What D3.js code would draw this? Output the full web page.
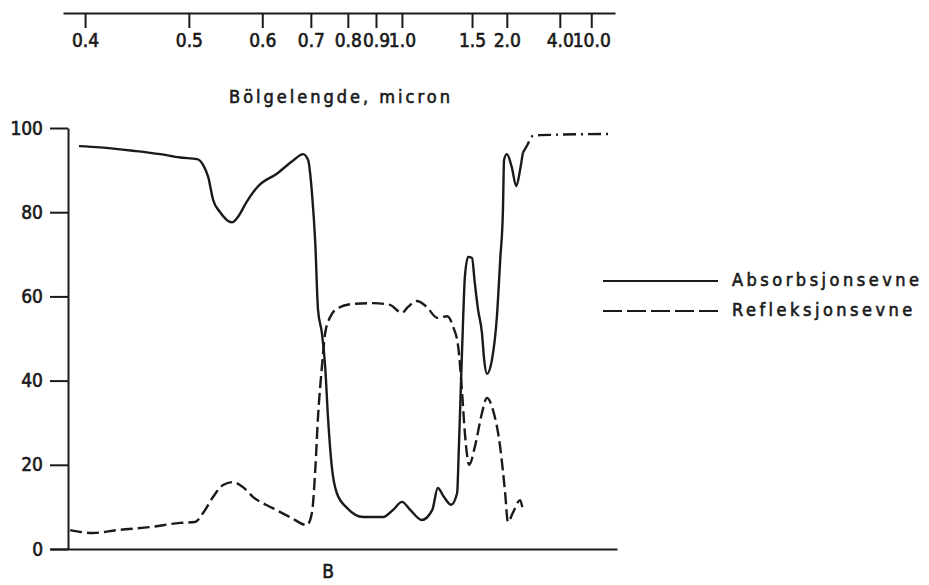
<!DOCTYPE html>
<html>
<head>
<meta charset="utf-8">
<script src="https://cdn.jsdelivr.net/npm/d3@7"></script>
<style>
  html, body { margin: 0; padding: 0; background: #fff; }
  svg { display: block; }
  text { font-family: "DejaVu Sans Condensed", "DejaVu Sans", sans-serif; fill: #1a1a1a; stroke: #1a1a1a; stroke-width: 0.6px; }
</style>
</head>
<body>
<svg id="chart" width="929" height="585"></svg>
<script>
// Horizontal coordinate: cumulative solar energy (%), labelled with wavelength (micron)
const wavelengthLabels = ["0.4", "0.5", "0.6", "0.7", "0.8", "0.9", "1.0", "1.5", "2.0", "4.0", "10.0"];
const wavelengthTickPct = [4.0, 22.8, 36.1, 44.9, 51.6, 56.7, 61.4, 74.1, 80.4, 90.0, 95.7];
const yTicks = [0, 20, 40, 60, 80, 100];

// Absorbsjonsevne (solid), [solar energy %, value %]
const absorbsjon = [
  [2.9, 95.7], [6.7, 95.4], [12.7, 94.6], [17.6, 93.8], [21.2, 93.0], [24.3, 92.6],
  [25.4, 91.2], [26.3, 88.4], [27.2, 82.9], [28.4, 80.1], [30.6, 77.6], [31.7, 78.9],
  [33.3, 82.5], [35.3, 86.1], [38.8, 89.2], [41.7, 92.3], [43.5, 93.8], [44.4, 92.4],
  [45.1, 84.6], [45.7, 72.7], [46.2, 56.8], [46.9, 51.3], [47.5, 43.2], [48.0, 31.4],
  [48.7, 19.5], [49.6, 13.3], [51.5, 9.7], [54.4, 7.6], [58.0, 7.6], [59.8, 9.3],
  [61.4, 11.2], [62.9, 9.3], [65.0, 6.9], [66.9, 9.3], [67.9, 14.5], [69.0, 12.4],
  [70.3, 10.5], [71.4, 13.3], [71.7, 23.5], [72.1, 39.4], [72.5, 55.1], [72.8, 64.6],
  [73.4, 69.4], [74.1, 69.1], [74.6, 63.2], [75.2, 56.8], [75.9, 51.3], [76.3, 44.9],
  [76.8, 41.6], [77.7, 44.9], [78.6, 55.1], [79.2, 68.6], [79.7, 80.5], [79.9, 92.4],
  [80.4, 93.8], [81.3, 90.7], [82.1, 86.2], [82.8, 90.0], [83.3, 94.1]
];
// Absorbsjonsevne, extrapolated part (dash-dot)
const absorbsjonExt = [
  [83.3, 94.1], [84.1, 95.9], [85.1, 98.1], [86.5, 98.3], [99.6, 98.6]
];
// Refleksjonsevne (dashed)
const refleksjon = [
  [1.3, 4.5], [5.4, 3.8], [9.8, 4.5], [15.8, 5.2], [21.2, 6.2], [23.9, 6.4],
  [25.4, 8.6], [27.2, 12.4], [29.0, 15.2], [30.8, 15.9], [32.6, 14.7], [34.4, 12.4],
  [38.0, 9.7], [41.1, 7.6], [44.2, 5.7], [45.1, 8.6], [45.7, 18.8], [46.2, 31.4],
  [46.9, 43.2], [47.5, 51.3], [48.4, 55.1], [49.8, 57.2], [52.5, 58.2], [56.2, 58.4],
  [59.2, 58.0], [61.4, 56.1], [62.5, 57.5], [64.1, 58.9], [65.9, 57.5], [67.8, 54.9],
  [69.6, 55.3], [70.7, 52.7], [71.6, 48.0], [72.3, 37.1], [72.8, 27.6], [73.6, 20.0],
  [74.6, 24.2], [75.9, 32.3], [76.8, 35.9], [77.9, 33.0], [79.2, 24.2], [80.1, 13.3],
  [80.6, 6.4], [81.5, 8.6], [82.8, 11.6], [83.3, 9.3]
];
const legendLabels = ["Absorbsjonsevne", "Refleksjonsevne"];
const xTitle = "Bölgelengde, micron";
const xLabel = "B";

const ink = "#1a1a1a";
const svg = d3.select("#chart");

const x = d3.scaleLinear().domain([0, 100]).range([63, 615]);
const y = d3.scaleLinear().domain([0, 100]).range([549, 128]);

// top wavelength axis
const topAxis = d3.axisBottom(x)
  .tickValues(wavelengthTickPct)
  .tickFormat((d, i) => wavelengthLabels[i])
  .tickSize(15).tickSizeOuter(0).tickPadding(6);
const gTop = svg.append("g").attr("transform", "translate(0,13)").call(topAxis);
gTop.selectAll("text").style("font-size", "19px");

svg.append("text")
  .attr("x", 341).attr("y", 103)
  .attr("text-anchor", "middle")
  .style("font-size", "18px").style("letter-spacing", "3px")
  .text(xTitle);

// left axis
const leftAxis = d3.axisLeft(y).tickValues(yTicks).tickSize(18).tickSizeOuter(0).tickPadding(7);
const gLeft = svg.append("g").attr("transform", "translate(68,0)").call(leftAxis);
gLeft.selectAll("text").style("font-size", "19px");

// bottom axis (no ticks)
const bottomAxis = d3.axisBottom(d3.scaleLinear().domain([0, 1]).range([50, 617]))
  .tickValues([]).tickSizeOuter(0);
svg.append("g").attr("transform", "translate(0,549)").call(bottomAxis);

svg.selectAll(".domain, .tick line").attr("stroke", ink).attr("stroke-width", 2);

svg.append("text")
  .attr("x", 328).attr("y", 578).attr("text-anchor", "middle")
  .style("font-size", "19px").text(xLabel);

const line = d3.line().x(d => x(d[0])).y(d => y(d[1])).curve(d3.curveMonotoneX);

svg.append("path").datum(absorbsjon)
  .attr("d", line).attr("fill", "none").attr("stroke", ink).attr("stroke-width", 2.4)
  .attr("stroke-linejoin", "round");
svg.append("path").datum(absorbsjonExt)
  .attr("d", line).attr("fill", "none").attr("stroke", ink).attr("stroke-width", 2.4)
  .attr("stroke-dasharray", "13,5,2,5");
svg.append("path").datum(refleksjon)
  .attr("d", line).attr("fill", "none").attr("stroke", ink).attr("stroke-width", 2.4)
  .attr("stroke-dasharray", "12,5");

// legend
const legend = svg.append("g");
const legendDash = [null, "19,5"];
const legendY = [281, 311];
legendLabels.forEach((lab, i) => {
  legend.append("line")
    .attr("x1", 603).attr("x2", 718).attr("y1", legendY[i]).attr("y2", legendY[i])
    .attr("stroke", ink).attr("stroke-width", 2.2)
    .attr("stroke-dasharray", legendDash[i]);
  legend.append("text")
    .attr("x", 732).attr("y", legendY[i] + 5)
    .style("font-size", "18px").style("letter-spacing", "3.5px")
    .text(lab);
});
</script>
</body>
</html>
